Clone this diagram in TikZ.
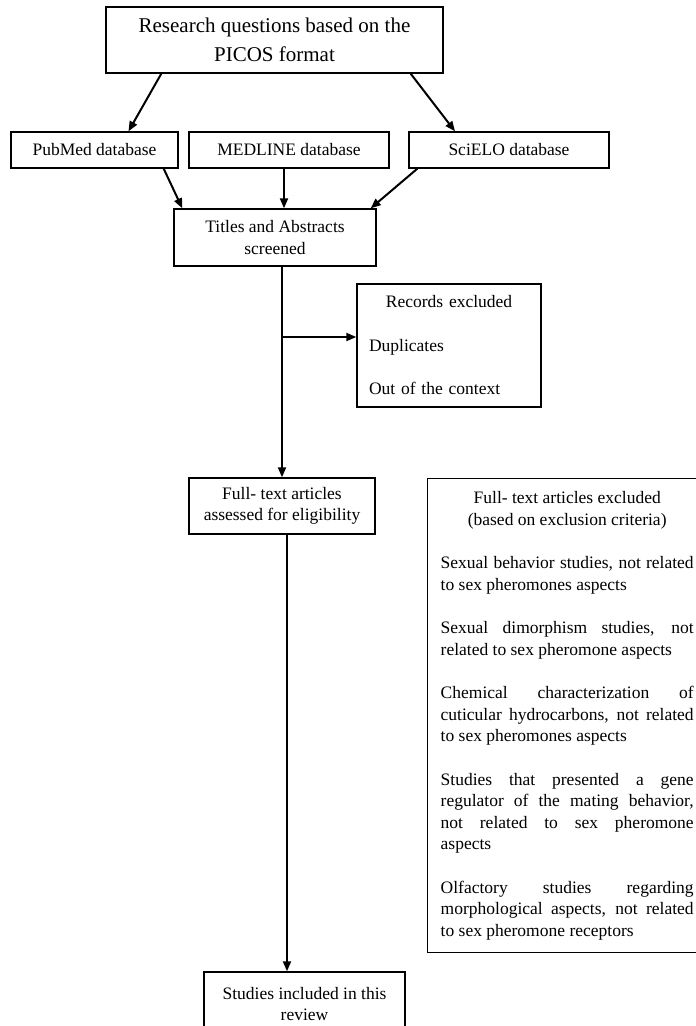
\documentclass[tikz,border=0pt]{standalone}
\usepackage{fontspec}
\setmainfont{Liberation Serif}
\usetikzlibrary{arrows.meta, positioning}

\begin{document}
\begin{tikzpicture}[
    x=1pt, y=-1pt,
    box/.style={rectangle, draw, line width=1.4pt, inner sep=0pt, align=center, font=\fontsize{17.5}{21.5}\selectfont},
    xbox/.style={rectangle, draw, line width=1.4pt, inner xsep=12pt, inner ysep=0pt, align=left, font=\fontsize{17.5}{21.5}\selectfont},
    arr/.style={-{Triangle[length=10pt, width=8pt]}, line width=2pt}
  ]
  \useasboundingbox (0,0) rectangle (696,1026);

  \node[box, font=\fontsize{21}{29}\selectfont, minimum width=337pt, minimum height=66pt] (picos) at (274.5,40) {Research questions based on the\\PICOS format};

  \node[box, minimum width=167pt, minimum height=36pt] (pubmed) at (94.5,150) {PubMed database};
  \node[box, minimum width=200pt, minimum height=36pt] (medline) at (289,150) {MEDLINE database};
  \node[box, minimum width=200pt, minimum height=36pt] (scielo) at (509,150) {SciELO database};

  \node[box, minimum width=202pt, minimum height=57pt] (titles) at (275,237.5) {Titles and Abstracts\\screened};

  \node[xbox, text width=160pt, minimum height=123pt] (recexcl) at (449,345.5) {{\centering Records excluded\par}\vskip22pt Duplicates\par\vskip22pt Out of the context};

  \node[box, minimum width=186pt, minimum height=56pt] (fulltext) at (282,506) {Full- text articles\\assessed for eligibility};

  \node[xbox, text width=253pt, inner xsep=13pt, minimum height=474pt, anchor=north west, align=justify] (fexcl) at (427,478) {\hyphenpenalty=10000
    {\centering Full- text articles excluded\par (based on exclusion criteria)\par}
    \vskip22pt
    Sexual behavior studies, not related\linebreak to sex pheromones aspects\par
    \vskip22pt
    Sexual dimorphism studies, not\linebreak related to sex pheromone aspects\par
    \vskip22pt
    Chemical characterization of\linebreak cuticular hydrocarbons, not related\linebreak to sex pheromones aspects\par
    \vskip22pt
    Studies that presented a gene\linebreak regulator of the mating behavior,\linebreak not related to sex pheromone\linebreak aspects\par
    \vskip22pt
    Olfactory studies regarding\linebreak morphological aspects, not related\linebreak to sex pheromone receptors};

  \node[box, minimum width=201pt, minimum height=64pt] (studies) at (304.5,1004) {Studies included in this\\review};

  \coordinate (mtap) at ([xshift=-5pt]medline.south);
  \coordinate (branch) at ([yshift=8.5pt]recexcl.west);
  \coordinate (trunk) at ([xshift=5pt]fulltext.south);

  \draw[arr] ([xshift=56pt]picos.south west) -- ([xshift=34pt]pubmed.north);
  \draw[arr] ([xshift=-33pt]picos.south east) -- ([xshift=-54pt]scielo.north);

  \draw[arr] ([xshift=-15pt]pubmed.south east) -- ([xshift=9pt]titles.north west);
  \draw[arr] (mtap) -- (mtap |- titles.north);
  \draw[arr] ([xshift=9pt]scielo.south west) -- ([xshift=-6pt]titles.north east);

  \draw[arr] (titles.south -| fulltext.north) -- (fulltext.north);
  \draw[arr] (branch -| fulltext.north) -- (branch);
  \draw[arr] (trunk) -- (trunk |- studies.north);
\end{tikzpicture}
\end{document}
